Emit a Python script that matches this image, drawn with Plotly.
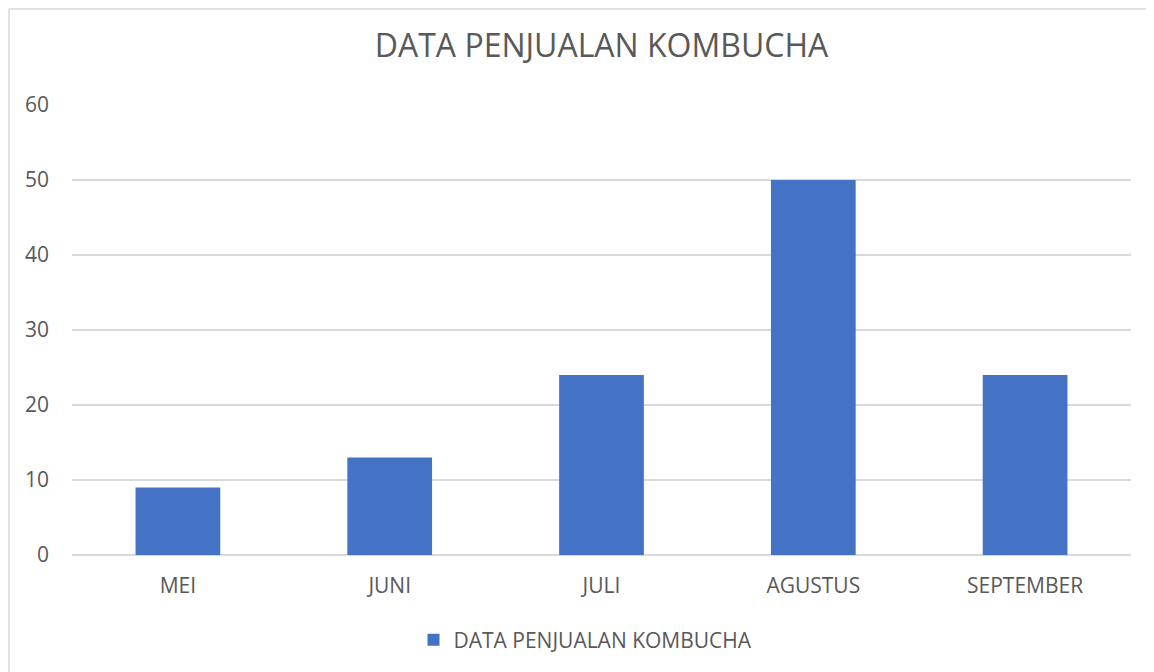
import plotly.graph_objects as go

months = ["MEI", "JUNI", "JULI", "AGUSTUS", "SEPTEMBER"]
sales = [9, 13, 24, 50, 24]
series_name = "DATA PENJUALAN KOMBUCHA"
chart_title = "DATA PENJUALAN KOMBUCHA"
y_ticks = [0, 10, 20, 30, 40, 50, 60]

FONT = "Open Sans"
GRAY = "#595959"
GRID = "#d9d9d9"

fig = go.Figure()
fig.add_trace(go.Bar(
    x=months, y=sales, name=series_name,
    marker=dict(color="#4472C4", line=dict(width=0)),
    showlegend=True,
))

OFF = 8  # page body margin
W, H = 1154 - OFF, 672 - OFF
# target plot area in page pixels: x 72..1131, y 105..555
L = 72 - OFF
T = 105 - OFF
R = W - (1131 - OFF)
B = H - (555 - OFF)
pw, ph = W - L - R, H - T - B

def px_to_paper_x(px):
    return (px - OFF - L) / pw

def px_to_paper_y(py):
    return (H - B - (py - OFF)) / ph

fig.update_layout(
    width=W, height=H,
    margin=dict(l=L, r=R, t=T, b=B),
    paper_bgcolor="white", plot_bgcolor="white",
    font=dict(family=FONT, color=GRAY, size=21),
    title=dict(text=chart_title, x=0.5, xanchor="center", xref="paper",
               y=1 - (46 - OFF) / H, yanchor="middle", yref="container",
               font=dict(family=FONT, size=32, color=GRAY)),
    bargap=0.6,
    showlegend=True,
    legend=dict(orientation="h", x=0.5 - 16 / pw, xanchor="center", y=px_to_paper_y(640),
                yanchor="middle", font=dict(family=FONT, size=21, color=GRAY),
                itemwidth=30),
    xaxis=dict(showgrid=False, showline=False, ticks="", tickfont=dict(size=21, color=GRAY),
               ticklabelstandoff=16),
    yaxis=dict(range=[0, 60], tickvals=y_ticks, showgrid=True, gridcolor=GRID, gridwidth=1.5,
               zeroline=True, zerolinecolor=GRID, zerolinewidth=1.5, showline=False,
               ticks="", tickfont=dict(size=21, color=GRAY), ticklabelstandoff=22),
    shapes=[dict(type="rect", xref="paper", yref="paper",
                 x0=px_to_paper_x(9), x1=px_to_paper_x(1154 + 20),
                 y0=px_to_paper_y(672 + 20), y1=px_to_paper_y(9),
                 line=dict(color=GRID, width=1.5), fillcolor="rgba(0,0,0,0)", layer="below")],
)

fig.write_html("out.html")
